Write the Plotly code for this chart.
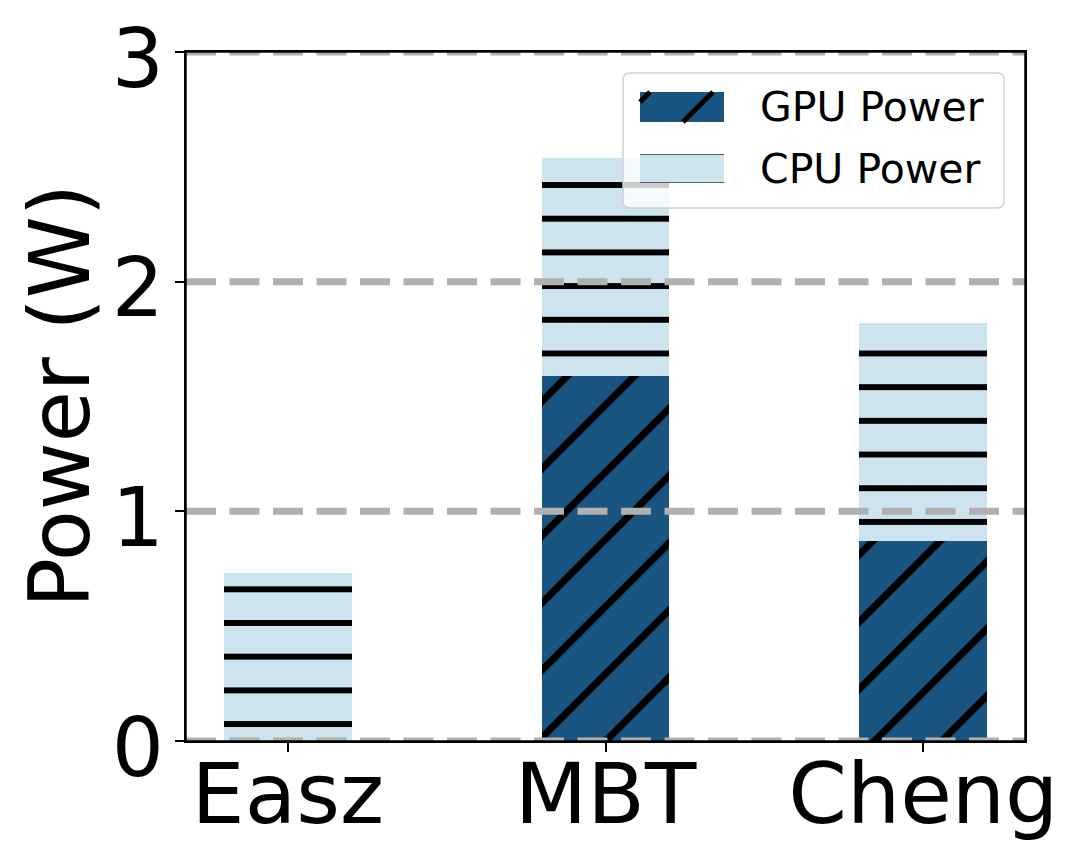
import plotly.graph_objects as go

categories = ["Easz", "MBT", "Cheng"]
gpu_power = [0.0, 1.59, 0.87]
cpu_power = [0.73, 0.95, 0.95]
y_ticks = [0, 1, 2, 3]
series_names = ["GPU Power", "CPU Power"]

GPU_COLOR = "#1a5481"
CPU_COLOR = "#cde3ee"
FONT = "DejaVu Sans"

W, H = 1079, 863
OFF = 8  # page offset of the figure in the screenshot
# plot area in screen pixels
SX0, SX1, SY0, SY1 = 186, 1025, 52, 741
L, T = SX0 - OFF, SY0 - OFF
R, B = W - (SX1 - OFF), H - (SY1 - OFF)
PW, PH = SX1 - SX0, SY1 - SY0
YMAX = 3.0
PPU = PH / YMAX                 # pixels per watt
CAT0, CAT_STEP = 287.8, 317.75  # screen x of first category, spacing


def px(x):
    return (x - SX0) / PW


def py(y):
    return (SY1 - y) / PH


def xcat(x):
    return (x - CAT0) / CAT_STEP


# bars live in an inner subplot whose origin fixes the hatch phase
IX0, IY0 = 203.8, 67.1

fig = go.Figure()
fig.add_trace(go.Bar(
    x=categories, y=gpu_power, name=series_names[0], width=0.402,
    xaxis="x2", yaxis="y2",
    marker=dict(color=GPU_COLOR, line=dict(width=0),
                pattern=dict(shape="/", size=47.54, solidity=0.15, fgopacity=1,
                             fgcolor="black", bgcolor=GPU_COLOR, fillmode="replace")),
))
fig.add_trace(go.Bar(
    x=categories, y=cpu_power, name=series_names[1], width=0.402,
    xaxis="x2", yaxis="y2",
    marker=dict(color=CPU_COLOR, line=dict(width=0),
                pattern=dict(shape="-", size=33.69, solidity=0.18, fgopacity=1,
                             fgcolor="black", bgcolor=CPU_COLOR, fillmode="replace")),
))

shapes = []
# dashed grid lines drawn above bars
for t in y_ticks:
    shapes.append(dict(type="line", xref="paper", yref="y", x0=0, x1=1, y0=t, y1=t,
                       layer="above", line=dict(color="#b0b0b0", width=7, dash="30px,13.5px")))
# axes frame
shapes.append(dict(type="rect", xref="paper", yref="paper", x0=0, x1=1, y0=0, y1=1,
                   layer="above", line=dict(color="black", width=1.5)))

# legend box (rounded)
bx0, by0, bx1, by1, rr = 623, 73, 1004, 208, 7
path = (f"M{px(bx0+rr)},{py(by0)} L{px(bx1-rr)},{py(by0)} Q{px(bx1)},{py(by0)} {px(bx1)},{py(by0+rr)} "
        f"L{px(bx1)},{py(by1-rr)} Q{px(bx1)},{py(by1)} {px(bx1-rr)},{py(by1)} "
        f"L{px(bx0+rr)},{py(by1)} Q{px(bx0)},{py(by1)} {px(bx0)},{py(by1-rr)} "
        f"L{px(bx0)},{py(by0+rr)} Q{px(bx0)},{py(by0)} {px(bx0+rr)},{py(by0)} Z")
shapes.append(dict(type="path", xref="paper", yref="paper", path=path, layer="above",
                   fillcolor="rgba(255,255,255,0.8)", line=dict(color="#d0d0d0", width=1.5)))
# GPU swatch
shapes.append(dict(type="rect", xref="paper", yref="paper", x0=px(640), x1=px(724),
                   y0=py(122), y1=py(92), fillcolor=GPU_COLOR, line=dict(width=0), layer="above"))
for (xa, ya, xb, yb) in [(640, 102, 650, 92), (683, 122, 713, 92)]:
    shapes.append(dict(type="line", xref="paper", yref="paper", x0=px(xa), y0=py(ya),
                       x1=px(xb), y1=py(yb), line=dict(color="black", width=5), layer="above"))
# CPU swatch
shapes.append(dict(type="rect", xref="paper", yref="paper", x0=px(640), x1=px(724),
                   y0=py(183), y1=py(154), fillcolor=CPU_COLOR, line=dict(width=0), layer="above"))
for yy in [154.5, 182.5]:
    shapes.append(dict(type="line", xref="paper", yref="paper", x0=px(640), x1=px(724),
                       y0=py(yy), y1=py(yy), line=dict(color="rgba(60,60,60,0.8)", width=1), layer="above"))

annotations = [
    dict(text=series_names[0], xref="paper", yref="paper", x=px(758), y=py(107),
         xanchor="left", yanchor="middle", showarrow=False, font=dict(family=FONT, size=41, color="black")),
    dict(text=series_names[1], xref="paper", yref="paper", x=px(758), y=py(169),
         xanchor="left", yanchor="middle", showarrow=False, font=dict(family=FONT, size=41, color="black")),
    dict(text="Power (W)", xref="paper", yref="paper", x=px(60), y=py(396),
         xanchor="center", yanchor="middle", textangle=-90, showarrow=False,
         font=dict(family=FONT, size=83, color="black")),
]

fig.update_layout(
    width=W, height=H,
    margin=dict(l=L, r=R, t=T, b=B, pad=0, autoexpand=False),
    paper_bgcolor="white", plot_bgcolor="white",
    barmode="stack", showlegend=False,
    font=dict(family=FONT, color="black"),
    shapes=shapes, annotations=annotations,
    xaxis=dict(
        range=[xcat(SX0), xcat(SX1)], tickvals=list(range(len(categories))), ticktext=categories,
        showgrid=False, zeroline=False, automargin=False,
        showline=True, linecolor="black", linewidth=1.5, mirror=True,
        ticks="outside", ticklen=9, tickwidth=1.5, tickcolor="black",
        ticklabelstandoff=-30,
        tickfont=dict(family=FONT, size=84, color="black"),
    ),
    yaxis=dict(
        range=[0, YMAX], tickvals=y_ticks, ticktext=[str(t) for t in y_ticks],
        showgrid=False, zeroline=False, automargin=False,
        showline=True, linecolor="black", linewidth=1.5, mirror=True,
        ticks="outside", ticklen=9, tickwidth=1.5, tickcolor="black",
        ticklabelstandoff=-5, ticklabelshift=6,
        tickfont=dict(family=FONT, size=82, color="black"),
    ),
    xaxis2=dict(
        domain=[px(IX0), 1], anchor="y2", type="category", visible=False,
        range=[xcat(IX0), xcat(SX1)],
    ),
    yaxis2=dict(
        domain=[0, py(IY0)], anchor="x2", visible=False,
        range=[0, (SY1 - IY0) / PPU],
    ),
)

fig.write_html("out.html")
